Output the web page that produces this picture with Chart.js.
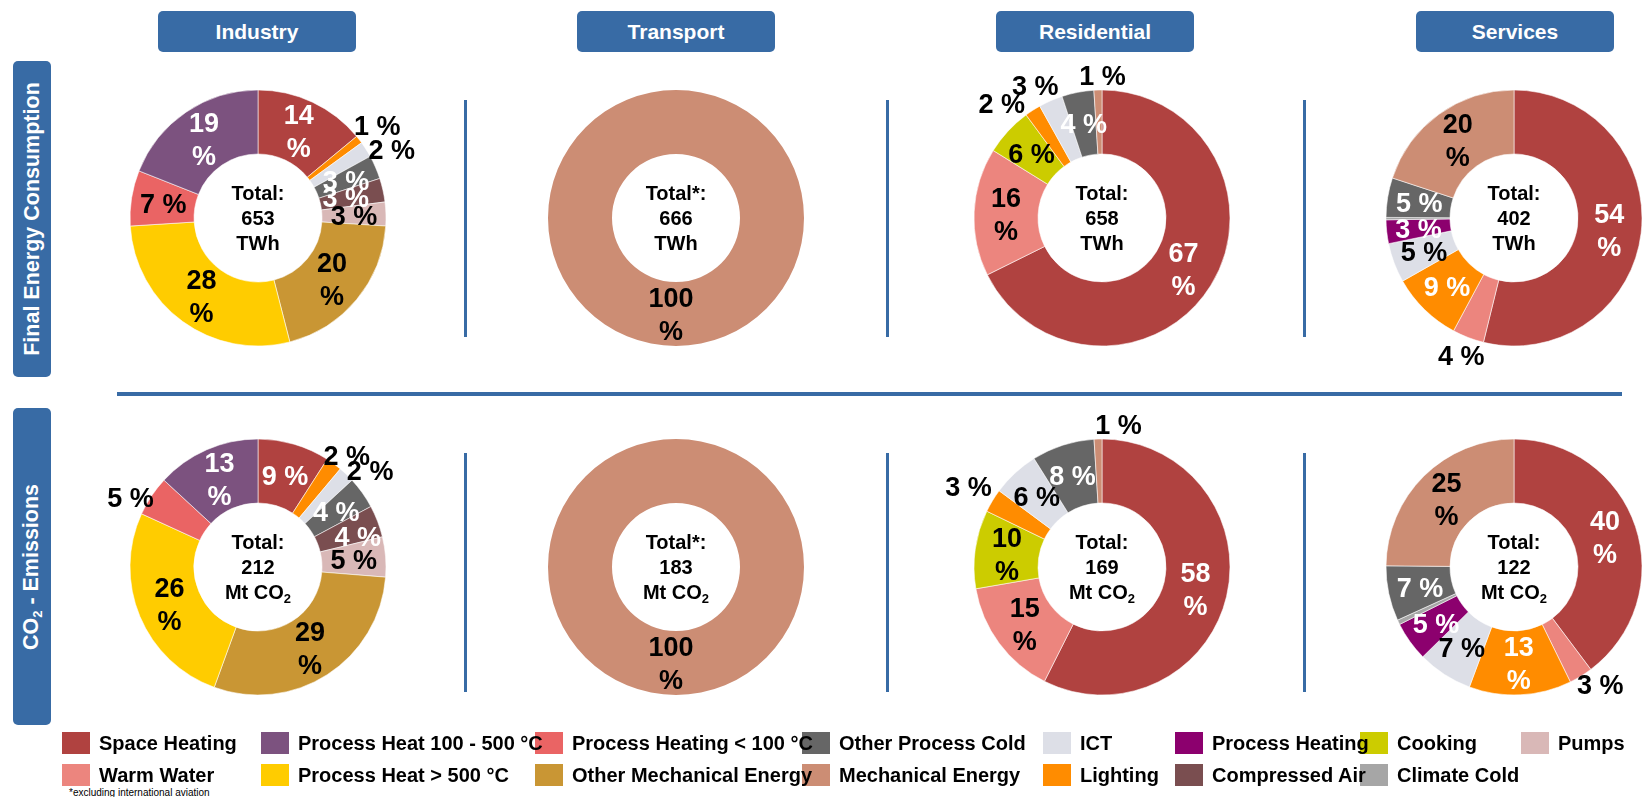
<!DOCTYPE html>
<html><head><meta charset="utf-8">
<script src="https://cdn.jsdelivr.net/npm/chart.js@4/dist/chart.umd.min.js"></script>
<style>
html,body{margin:0;padding:0;background:#fff;}
body{width:1643px;height:797px;overflow:hidden;position:relative;font-family:"Liberation Sans",Arial,sans-serif;}
.hdr{position:absolute;top:11px;height:41px;width:198px;background:#386BA5;border-radius:5px;color:#fff;font-weight:bold;font-size:21px;display:flex;align-items:center;justify-content:center;}
.side{position:absolute;left:13px;width:38px;background:#386BA5;border-radius:5px;}
.side span{position:absolute;left:50%;top:50%;transform:translate(-50%,-50%) rotate(-90deg);white-space:nowrap;color:#fff;font-weight:bold;font-size:21.5px;}
.side sub{font-size:13px;vertical-align:-4px;}
.vline{position:absolute;width:3px;background:#386BA5;}
.hline{position:absolute;left:117px;width:1505px;top:392px;height:4px;background:#386BA5;}
.cv{position:absolute;}
.leg{position:absolute;height:22px;display:flex;align-items:center;font-weight:bold;font-size:20px;white-space:nowrap;color:#000;}
.leg i{display:inline-block;width:28px;height:22px;margin-right:9px;position:relative;z-index:1;}
.leg b{position:relative;z-index:2;}
.note{position:absolute;left:69px;top:787px;font-size:10px;color:#000;}
</style></head>
<body>
<div id="root"></div>
<script>
// ---------- data ----------
const sectors = ['Industry', 'Transport', 'Residential', 'Services'];
const fecTotals = [653, 666, 658, 402];      // TWh
const co2Totals = [212, 183, 169, 122];      // Mt CO2
const totalTitles = ['Total:', 'Total*:', 'Total:', 'Total:'];

const legendCategories = ['Space Heating', 'Warm Water', 'Process Heat 100 - 500 °C', 'Process Heat > 500 °C',
  'Process Heating < 100 °C', 'Other Mechanical Energy', 'Other Process Cold', 'Mechanical Energy',
  'ICT', 'Lighting', 'Process Heating', 'Compressed Air', 'Cooking', 'Climate Cold', 'Pumps'];

const industryLabels = ['Space Heating', 'Lighting', 'ICT', 'Other Process Cold', 'Compressed Air', 'Pumps',
  'Other Mechanical Energy', 'Process Heat > 500 °C', 'Process Heating < 100 °C', 'Process Heat 100 - 500 °C'];
const industryFecValues = [14, 1, 2, 3, 3, 3, 20, 28, 7, 19];
const industryCo2Values = [9, 2, 2, 4, 4, 5, 29, 26, 5, 13];

const transportLabels = ['Mechanical Energy'];
const transportFecValues = [100];
const transportCo2Values = [100];

const residentialLabels = ['Space Heating', 'Warm Water', 'Cooking', 'Lighting', 'ICT', 'Other Process Cold', 'Mechanical Energy'];
const residentialFecValues = [67, 16, 6, 2, 3, 4, 1];
const residentialCo2Values = [58, 15, 10, 3, 6, 8, 1];

const servicesLabels = ['Space Heating', 'Warm Water', 'Lighting', 'ICT', 'Process Heating', 'Climate Cold', 'Other Process Cold', 'Mechanical Energy'];
const servicesFecValues = [54, 4, 9, 5, 3, 0.3, 5, 20];
const servicesCo2Values = [40, 3, 13, 7, 5, 0.6, 7, 25];

// ---------- styles ----------
const categoryColors = ['#B04240', '#EC857E', '#7C527F', '#FFCC00', '#EA6464', '#C99634', '#666666', '#CC8D74',
  '#DDDFE7', '#FF8C00', '#8C006E', '#7A4E50', '#CCCC00', '#A6A6A6', '#D9B8B7'];
const whiteLabelCats = ['Space Heating', 'Process Heat 100 - 500 °C', 'Other Process Cold', 'Compressed Air', 'Lighting', 'Process Heating'];
const colorOf = Object.fromEntries(legendCategories.map((c, i) => [c, categoryColors[i]]));
const FONT = '"Liberation Sans", Arial, sans-serif';

const headerCenters = [257, 676, 1095, 1515];
const donutCx = [258, 676, 1102, 1514];
const donutCy = [218, 567];
const vlineX = [464, 886, 1303];
const legendColX = [62, 261, 535, 802, 1043, 1175, 1360, 1521];
const legendRowTop = [732, 764];

// label tweaks (r = outside radius, dx/dy = nudge)
const tweaksIndFec = {'Lighting': {r: 151}, 'ICT': {r: 150, dx: 7, dy: 12}, 'Compressed Air': {dx: -6}};
const tweaksTraFec = {'Mechanical Energy': {dx: -5}};
const tweaksResFec = {'Lighting': {r: 152, dx: -18, dy: 13}, 'ICT': {r: 149, dx: -7, dy: 4}, 'Mechanical Energy': {r: 143, dx: 5}};
const tweaksSerFec = {'Warm Water': {r: 147}};
const tweaksIndCo2 = {'Lighting': {r: 143, dx: 4, dy: 3}, 'ICT': {r: 148, dx: 10, dy: 10}, 'Process Heating < 100 °C': {r: 146, dx: -6, dy: 11}, 'Compressed Air': {dx: 10, dy: 4}};
const tweaksTraCo2 = {'Mechanical Energy': {dx: -5}};
const tweaksResCo2 = {'Lighting': {r: 156}, 'Mechanical Energy': {r: 143, dx: 21}};
const tweaksSerCo2 = {'Warm Water': {r: 146, dx: 10, dy: -7}};

// ---------- static layout ----------
const root = document.getElementById('root');
function el(tag, cls, css, html) {
  const e = document.createElement(tag);
  if (cls) e.className = cls;
  if (css) Object.assign(e.style, css);
  if (html !== undefined) e.innerHTML = html;
  root.appendChild(e);
  return e;
}
sectors.forEach((s, i) => el('div', 'hdr', {left: (headerCenters[i] - 99) + 'px'}, s));
el('div', 'side', {top: '61px', height: '316px'}, '<span>Final Energy Consumption</span>');
el('div', 'side', {top: '408px', height: '317px'}, '<span>CO<sub>2</sub> - Emissions</span>');
el('div', 'hline');
vlineX.forEach(x => {
  el('div', 'vline', {left: x + 'px', top: '100px', height: '237px'});
  el('div', 'vline', {left: x + 'px', top: '453px', height: '239px'});
});
legendCategories.forEach((c, i) => {
  const col = Math.floor(i / 2), row = i % 2;
  el('div', 'leg', {left: legendColX[col] + 'px', top: legendRowTop[row] + 'px'},
    '<i style="background:' + colorOf[c] + '"></i><b>' + c + '</b>');
});
el('div', 'note', null, '*excluding international aviation');

// ---------- plugins ----------
const pctLabels = {
  id: 'pctLabels',
  afterDatasetsDraw(chart, args, opts) {
    const ctx = chart.ctx;
    const meta = chart.getDatasetMeta(0);
    const data = chart.data.datasets[0].data;
    const tweaks = opts.tweaks || {};
    meta.data.forEach((arc, i) => {
      const v = data[i];
      if (v < 1) return;
      const cat = chart.data.labels[i];
      const tw = tweaks[cat] || {};
      const p = arc.getProps(['x', 'y', 'startAngle', 'endAngle', 'innerRadius', 'outerRadius'], true);
      const mid = (p.startAngle + p.endAngle) / 2;
      const r = tw.r ? tw.r : (p.innerRadius + p.outerRadius) / 2;
      const x = p.x + Math.cos(mid) * r + (tw.dx || 0);
      const y = p.y + Math.sin(mid) * r + (tw.dy || 0);
      ctx.save();
      ctx.font = 'bold 27px ' + FONT;
      ctx.fillStyle = (!tw.r && whiteLabelCats.includes(cat)) ? '#fff' : '#000';
      ctx.textAlign = 'center';
      ctx.textBaseline = 'alphabetic';
      const off = 9.7;
      if (v >= 10) {
        ctx.fillText(String(v), x, y - 16.5 + off);
        ctx.fillText('%', x, y + 16.5 + off);
      } else {
        ctx.fillText(v + ' %', x, y + off);
      }
      ctx.restore();
    });
  }
};
const centerText = {
  id: 'centerText',
  afterDatasetsDraw(chart, args, opts) {
    const ctx = chart.ctx;
    const a = chart.chartArea;
    const cx = (a.left + a.right) / 2, cy = (a.top + a.bottom) / 2;
    ctx.save();
    ctx.fillStyle = '#000';
    ctx.font = 'bold 20px ' + FONT;
    ctx.textBaseline = 'alphabetic';
    const off = 7.2;
    ctx.textAlign = 'center';
    ctx.fillText(opts.title, cx, cy - 25 + off);
    ctx.fillText(String(opts.total), cx, cy + off);
    if (opts.co2) {
      ctx.textAlign = 'left';
      const w1 = ctx.measureText('Mt CO').width;
      ctx.font = 'bold 13px ' + FONT;
      const w2 = ctx.measureText('2').width;
      const sx = cx - (w1 + w2) / 2;
      ctx.font = 'bold 20px ' + FONT;
      ctx.fillText('Mt CO', sx, cy + 25 + off);
      ctx.font = 'bold 13px ' + FONT;
      ctx.fillText('2', sx + w1, cy + 25 + off + 4);
    } else {
      ctx.fillText('TWh', cx, cy + 25 + off);
    }
    ctx.restore();
  }
};

// ---------- charts ----------
const W = 360, H = 340;
function donut(col, row, labels, values, tweaks) {
  const cv = document.createElement('canvas');
  cv.className = 'cv';
  cv.width = W; cv.height = H;
  cv.style.width = W + 'px'; cv.style.height = H + 'px';
  cv.style.left = (donutCx[col] - W / 2) + 'px';
  cv.style.top = (donutCy[row] - H / 2) + 'px';
  root.appendChild(cv);
  new Chart(cv.getContext('2d'), {
    type: 'doughnut',
    data: {
      labels: labels,
      datasets: [{
        data: values,
        backgroundColor: labels.map(l => colorOf[l]),
        borderColor: 'rgba(255,255,255,0.7)',
        borderWidth: values.length > 1 ? 0.8 : 0
      }]
    },
    options: {
      responsive: false,
      animation: false,
      devicePixelRatio: 1,
      radius: 128,
      cutout: '50%',
      layout: {padding: 0},
      events: [],
      plugins: {
        legend: {display: false},
        tooltip: {enabled: false},
        pctLabels: {tweaks: tweaks},
        centerText: {title: totalTitles[col], total: row === 0 ? fecTotals[col] : co2Totals[col], co2: row === 1}
      }
    },
    plugins: [pctLabels, centerText]
  });
}
donut(0, 0, industryLabels, industryFecValues, tweaksIndFec);
donut(1, 0, transportLabels, transportFecValues, tweaksTraFec);
donut(2, 0, residentialLabels, residentialFecValues, tweaksResFec);
donut(3, 0, servicesLabels, servicesFecValues, tweaksSerFec);
donut(0, 1, industryLabels, industryCo2Values, tweaksIndCo2);
donut(1, 1, transportLabels, transportCo2Values, tweaksTraCo2);
donut(2, 1, residentialLabels, residentialCo2Values, tweaksResCo2);
donut(3, 1, servicesLabels, servicesCo2Values, tweaksSerCo2);
</script>
</body></html>
